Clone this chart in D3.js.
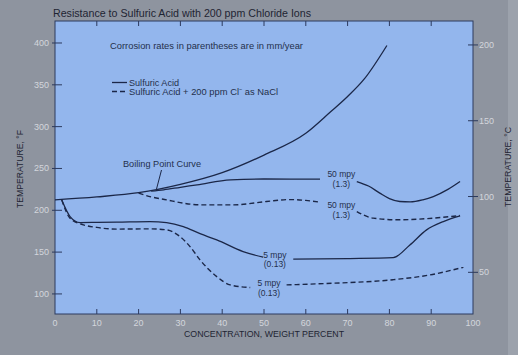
<!DOCTYPE html>
<html><head><meta charset="utf-8">
<script src="https://cdn.jsdelivr.net/npm/d3@7"></script>
<style>html,body{margin:0;padding:0;background:#8e949f;}svg{display:block;}</style>
</head><body>
<svg id="c" width="518" height="355"></svg>
<script>
// ---- data (concentration %, temperature °F) ----
const xTicks = [0,10,20,30,40,50,60,70,80,90,100];
const fTicks = [100,150,200,250,300,350,400];
const cTicks = [50,100,150,200];
const boiling = [[0,212.5],[10,216],[20,221],[30,231],[40,245],[50,266],[60,292],[66,318],[70,336],[74,357],[79.4,397]];
const acid50a = [[23,223],[26,224.5],[30,227.5],[34,230.4],[42,236.4],[50,237.4],[63.4,237.3]];
const acid50b = [[72.2,234.4],[75,229],[77.7,220.5],[80,214],[82.5,210.5],[85,210],[88,212.5],[90.5,216.4],[94,225],[96.9,234.4]];
const chl50a = [[20,220.5],[23,216],[26.7,212.5],[30.7,208.5],[34.7,206.5],[42.7,206.5],[50.6,210.5],[56.2,212.8],[60,211.8],[63.4,209.7]];
const chl50b = [[72.2,198.5],[76.1,190.6],[82.5,188.6],[90.5,190.6],[96.9,193.7]];
const acid5a = [[1.6,212.5],[3.6,192.5],[6,185.3],[10,185.5],[14.8,185.8],[22.7,186.5],[26.7,185.3],[30.7,180.5],[34.7,172],[38.7,164.6],[45,150.6],[49.8,143.9]];
const acid5b = [[57,141.5],[70,142.3],[80.9,143.4],[84.9,158.6],[88.9,176.6],[92.9,186.5],[96.9,193.3]];
const chl5a = [[1.6,212.5],[3.6,190.5],[6.8,182.6],[10,179.5],[14.8,177.5],[22.7,177.8],[26.7,176.6],[29.9,168.6],[32.3,156.6],[34.7,140.7],[38.7,120.7],[41.9,110.8],[46.7,107.6]];
const chl5b = [[55.4,110.8],[65,112.5],[80.9,117],[89.7,122.7],[97.7,131.9]];
const rateLabels = [
  {x:68.5, f:239.4, t:"50 mpy"},{x:68.5, f:228.0, t:"(1.3)"},
  {x:68.5, f:202.3, t:"50 mpy"},{x:68.5, f:190.4, t:"(1.3)"},
  {x:52.6, f:143.1, t:"5 mpy"},{x:52.6, f:131.7, t:"(0.13)"},
  {x:51.2, f:109.6, t:"5 mpy"},{x:51.2, f:97.6, t:"(0.13)"}
];

const svg = d3.select("#c");
const L=55, R=473, T=21, B=314;
const x = d3.scaleLinear().domain([0,100]).range([L,R]);
const yF = d3.scaleLinear().domain([76,426.3]).range([B,T]);
const yC = d3.scaleLinear().domain([22.5,215.8]).range([B,T]);
const ink = "#1b2748", font = "Liberation Sans, Arial, sans-serif";

svg.append("rect").attr("x",508).attr("y",0).attr("width",10).attr("height",355).attr("fill","#9ca2ac");
svg.append("rect").attr("x",L).attr("y",T).attr("width",R-L).attr("height",B-T)
  .attr("fill","#93b6ed").attr("stroke","#2c3a5e").attr("stroke-width",1);

// title
svg.append("text").attr("x",53).attr("y",17).attr("font-family",font).attr("font-size",11)
  .attr("fill","#1e2433").attr("textLength",258).attr("lengthAdjust","spacingAndGlyphs")
  .text("Resistance to Sulfuric Acid with 200 ppm Chloride Ions");

// ticks
const tickCol = "#d3d6dc";
const g = svg.append("g");
xTicks.forEach(v=>{
  if(v>0 && v<100){
    g.append("line").attr("x1",x(v)).attr("x2",x(v)).attr("y1",B).attr("y2",B-5).attr("stroke","#2c3a5e");
    g.append("line").attr("x1",x(v)).attr("x2",x(v)).attr("y1",T).attr("y2",T+5).attr("stroke","#2c3a5e");
  }
  g.append("text").attr("x",x(v)).attr("y",326).attr("text-anchor","middle").attr("font-family",font)
    .attr("font-size",9).attr("fill",tickCol).text(v);
});
fTicks.forEach(v=>{
  g.append("line").attr("x1",52).attr("x2",62).attr("y1",yF(v)).attr("y2",yF(v)).attr("stroke","#2c3a5e");
  g.append("text").attr("x",49).attr("y",yF(v)+3).attr("text-anchor","end").attr("font-family",font)
    .attr("font-size",9).attr("fill",tickCol).text(v);
});
cTicks.forEach(v=>{
  g.append("line").attr("x1",468).attr("x2",478).attr("y1",yC(v)).attr("y2",yC(v)).attr("stroke","#2c3a5e");
  g.append("text").attr("x",479).attr("y",yC(v)+3).attr("font-family",font)
    .attr("font-size",9).attr("fill",tickCol).text(v);
});

// axis titles
svg.append("text").attr("x",264).attr("y",337).attr("text-anchor","middle").attr("font-family",font)
  .attr("font-size",9).attr("fill","#1e2433").attr("textLength",160).attr("lengthAdjust","spacingAndGlyphs")
  .text("CONCENTRATION, WEIGHT PERCENT");
svg.append("text").attr("transform","translate(23,169) rotate(-90)").attr("text-anchor","middle")
  .attr("font-family",font).attr("font-size",9).attr("fill","#1e2433").attr("textLength",78)
  .attr("lengthAdjust","spacingAndGlyphs").text("TEMPERATURE, °F");
svg.append("text").attr("transform","translate(511,167) rotate(-90)").attr("text-anchor","middle")
  .attr("font-family",font).attr("font-size",9).attr("fill","#1e2433").attr("textLength",80)
  .attr("lengthAdjust","spacingAndGlyphs").text("TEMPERATURE, °C");

// curves
const line = d3.line().x(d=>x(d[0])).y(d=>yF(d[1])).curve(d3.curveMonotoneX);
const solids = [boiling, acid50a, acid50b, acid5a, acid5b];
const dashes = [chl50a, chl50b, chl5a, chl5b];
solids.forEach(s=>svg.append("path").attr("d",line(s)).attr("fill","none").attr("stroke",ink).attr("stroke-width",1.3));
dashes.forEach(s=>svg.append("path").attr("d",line(s)).attr("fill","none").attr("stroke",ink).attr("stroke-width",1.4).attr("stroke-dasharray","5,3"));

// texts inside
const txt = (xx,yy,t,len)=>{const e=svg.append("text").attr("x",xx).attr("y",yy).attr("font-family",font)
  .attr("font-size",9).attr("fill","#24304c").text(t); if(len) e.attr("textLength",len).attr("lengthAdjust","spacingAndGlyphs"); return e;};
txt(110,49,"Corrosion rates in parentheses are in mm/year",193);
svg.append("line").attr("x1",112).attr("x2",127).attr("y1",82.5).attr("y2",82.5).attr("stroke",ink).attr("stroke-width",1.3);
svg.append("line").attr("x1",112).attr("x2",128).attr("y1",91.5).attr("y2",91.5).attr("stroke",ink).attr("stroke-width",1.4).attr("stroke-dasharray","5,3");
txt(129,85.5,"Sulfuric Acid",50);
txt(129,94.5,"Sulfuric Acid + 200 ppm Cl⁻ as NaCl",149);
txt(123,167,"Boiling Point Curve",78);
svg.append("line").attr("x1",161.5).attr("y1",170).attr("x2",156.5).attr("y2",189).attr("stroke",ink).attr("stroke-width",1);
rateLabels.forEach(d=>{
  svg.append("text").attr("x",x(d.x)).attr("y",yF(d.f)).attr("text-anchor","middle").attr("font-family",font)
    .attr("font-size",8.5).attr("fill","#24304c").text(d.t);
});
</script>
</body></html>
